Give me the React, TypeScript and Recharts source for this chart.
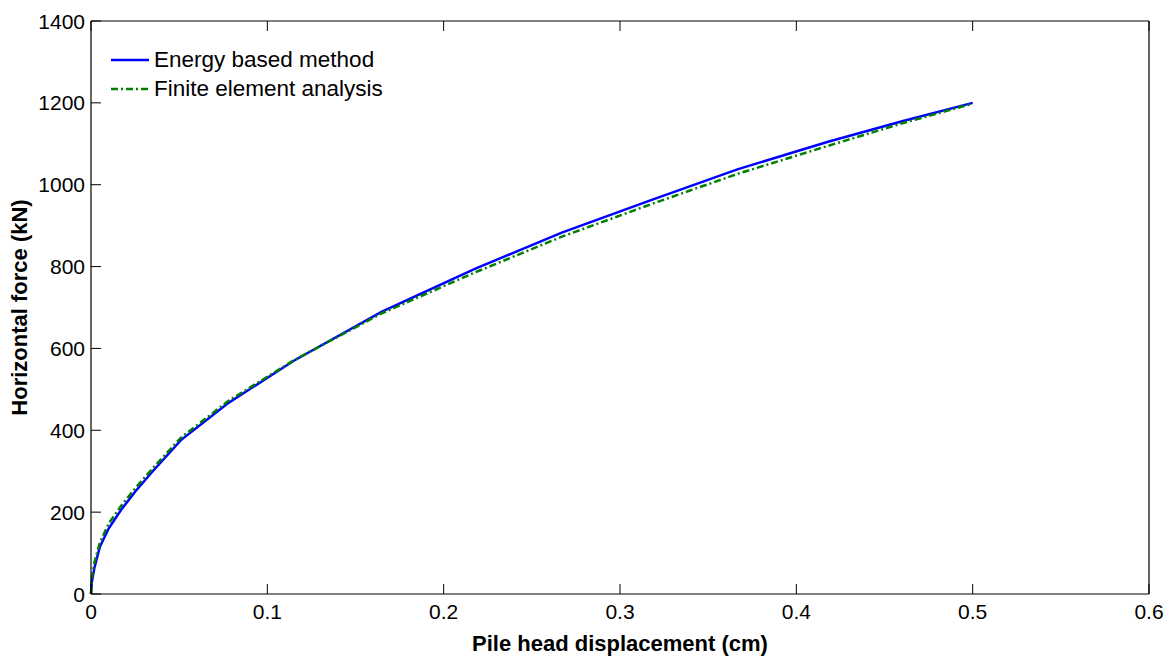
import React from 'react'
import {
  LineChart, Line, XAxis, YAxis, Label,
} from 'recharts'

// displacement (cm) shared by both series
const displacement = [
  0, 0.0005, 0.002, 0.005, 0.01, 0.017, 0.025, 0.035, 0.051, 0.078,
  0.115, 0.165, 0.218, 0.267, 0.318, 0.367, 0.418, 0.46, 0.5,
]
// horizontal force (kN)
const energyForce = [
  0, 30, 65, 115, 160, 205, 250, 300, 376, 467,
  570, 690, 795, 883, 963, 1038, 1105, 1155, 1200,
]
const feaForce = [
  0, 40, 78, 125, 172, 215, 258, 307, 382, 472,
  571, 686, 786, 873, 953, 1027, 1095, 1150, 1198,
]

const xTicks = [0, 0.1, 0.2, 0.3, 0.4, 0.5, 0.6]
const yTicks = [0, 200, 400, 600, 800, 1000, 1200, 1400]

const seriesNames = ['Energy based method', 'Finite element analysis']

const data = displacement.map((d, i) => ({
  d,
  energy: energyForce[i],
  fea: feaForce[i],
}))

const FONT = '"Liberation Sans", Arial, sans-serif'
const TICK_LEN = 10
const X_GAP = 10
const Y_GAP = 6

// MATLAB-style ticks: lines point into the plot box
const BottomTick = ({ x, y, payload }: any) => (
  <g>
    <line x1={x} y1={y} x2={x} y2={y - TICK_LEN} stroke="#000" strokeWidth={1} />
    <text x={x} y={y + X_GAP} dy="0.71em" textAnchor="middle" fontFamily={FONT} fontSize={21} fill="#000">
      {payload.value}
    </text>
  </g>
)

const LeftTick = ({ x, y, payload }: any) => (
  <g>
    <line x1={x} y1={y} x2={x + TICK_LEN} y2={y} stroke="#000" strokeWidth={1} />
    <text x={x - Y_GAP} y={y} dy="0.36em" textAnchor="end" fontFamily={FONT} fontSize={21} fill="#000">
      {payload.value}
    </text>
  </g>
)

const TopTick = ({ x, y }: any) => (
  <line x1={x} y1={y} x2={x} y2={y + TICK_LEN} stroke="#000" strokeWidth={1} />
)

const RightTick = ({ x, y }: any) => (
  <line x1={x} y1={y} x2={x - TICK_LEN} y2={y} stroke="#000" strokeWidth={1} />
)

function LegendBox() {
  return (
    <div
      style={{
        position: 'absolute', left: 111, top: 45,
        fontFamily: FONT, fontSize: 22.5, color: '#000', lineHeight: '29px',
      }}
    >
      <div style={{ display: 'flex', alignItems: 'center' }}>
        <svg width={43} height={10}>
          <line x1={0} y1={5} x2={38} y2={5} stroke="#0000ff" strokeWidth={2.5} />
        </svg>
        <span>{seriesNames[0]}</span>
      </div>
      <div style={{ display: 'flex', alignItems: 'center' }}>
        <svg width={43} height={10}>
          <line x1={0} y1={5} x2={38} y2={5} stroke="#008000" strokeWidth={2.5} strokeDasharray="7 3 2 3" />
        </svg>
        <span>{seriesNames[1]}</span>
      </div>
    </div>
  )
}

export default function App() {
  return (
    <div style={{ position: 'absolute', left: 0, top: 0, width: 1171, height: 656, background: '#fff' }}>
      <LineChart
        width={1171}
        height={656}
        data={data}
        margin={{ top: 20, right: 21, bottom: 12, left: 0 }}
      >
        <XAxis
          dataKey="d"
          type="number"
          domain={[0, 0.6]}
          ticks={xTicks}
          interval={0}
          height={50}
          tick={<BottomTick />}
          tickSize={0}
          tickMargin={0}
          tickLine={false}
          axisLine={{ stroke: '#000', strokeWidth: 1.2 }}
        >
          <Label
            content={({ viewBox }: any) => (
              <text
                x={viewBox.x + viewBox.width / 2}
                y={651}
                textAnchor="middle"
                fontFamily={FONT}
                fontSize={22}
                fontWeight="bold"
                fill="#000"
              >
                Pile head displacement (cm)
              </text>
            )}
          />
        </XAxis>
        <XAxis
          xAxisId="top"
          dataKey="d"
          type="number"
          orientation="top"
          domain={[0, 0.6]}
          ticks={xTicks}
          interval={0}
          height={1}
          tick={<TopTick />}
          tickSize={0}
          tickMargin={0}
          tickLine={false}
          axisLine={{ stroke: '#000', strokeWidth: 1.2 }}
        />
        <YAxis
          type="number"
          domain={[0, 1400]}
          ticks={yTicks}
          interval={0}
          width={91}
          tick={<LeftTick />}
          tickSize={0}
          tickMargin={0}
          tickLine={false}
          axisLine={{ stroke: '#000', strokeWidth: 1.2 }}
        >
          <Label
            content={({ viewBox }: any) => {
              const cy = viewBox.y + viewBox.height / 2
              return (
                <text
                  x={27}
                  y={cy}
                  transform={`rotate(-90, 27, ${cy})`}
                  textAnchor="middle"
                  fontFamily={FONT}
                  fontSize={22}
                  fontWeight="bold"
                  fill="#000"
                >
                  Horizontal force (kN)
                </text>
              )
            }}
          />
        </YAxis>
        <YAxis
          yAxisId="right"
          orientation="right"
          type="number"
          domain={[0, 1400]}
          ticks={yTicks}
          interval={0}
          width={1}
          tick={<RightTick />}
          tickSize={0}
          tickMargin={0}
          tickLine={false}
          axisLine={{ stroke: '#000', strokeWidth: 1.2 }}
        />
        <Line
          type="linear"
          dataKey="energy"
          name={seriesNames[0]}
          stroke="#0000ff"
          strokeWidth={2.5}
          dot={false}
          isAnimationActive={false}
        />
        <Line
          type="linear"
          dataKey="fea"
          name={seriesNames[1]}
          stroke="#008000"
          strokeWidth={2.5}
          strokeDasharray="7 3 2 3"
          dot={false}
          isAnimationActive={false}
        />
      </LineChart>
      <LegendBox />
    </div>
  )
}
